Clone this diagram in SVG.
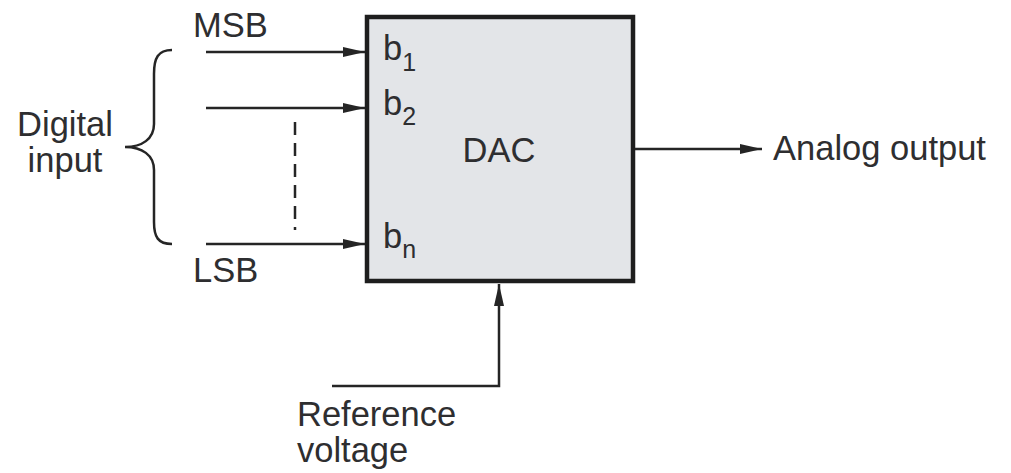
<svg xmlns="http://www.w3.org/2000/svg" width="1011" height="473" viewBox="0 0 1011 473">
<style>
text{font-family:"Liberation Sans",Arial,sans-serif;fill:#2e2e30;font-size:34.5px}
.sub{font-size:25px}
.ln{stroke:#252525;stroke-width:2.5;fill:none}
</style>
<defs>
<marker id="ah" markerWidth="22" markerHeight="10" refX="22" refY="5" orient="auto" markerUnits="userSpaceOnUse">
<path d="M0,0 L22,5 L0,10 Z" fill="#252525"/>
</marker>
</defs>
<rect width="1011" height="473" fill="#ffffff"/>
<g id="dac">
<rect x="367" y="17" width="266" height="264" fill="#e3e5e8" stroke="#1e1e1e" stroke-width="4.5"/>
<text x="499" y="162" text-anchor="middle">DAC</text>
<text x="383" y="60">b<tspan class="sub" dy="11">1</tspan></text>
<text x="383" y="115">b<tspan class="sub" dy="10">2</tspan></text>
<text x="383" y="248">b<tspan class="sub" dy="10">n</tspan></text>
</g>
<g id="labels">
<text x="193" y="37">MSB</text>
<text x="193" y="282">LSB</text>
<text x="65" y="136" text-anchor="middle">Digital</text>
<text x="65" y="172" text-anchor="middle">input</text>
<text x="773" y="160">Analog output</text>
<text x="297" y="426">Reference</text>
<text x="297" y="462">voltage</text>
</g>
<g id="connectors">
<line class="ln" x1="206" y1="52" x2="365" y2="52" marker-end="url(#ah)"/>
<line class="ln" x1="206" y1="108" x2="365" y2="108" marker-end="url(#ah)"/>
<line class="ln" x1="206" y1="244" x2="365" y2="244" marker-end="url(#ah)"/>
<line class="ln" x1="635" y1="149" x2="762" y2="149" marker-end="url(#ah)"/>
<polyline class="ln" points="332,386 499,386 499,284" marker-end="url(#ah)"/>
<line class="ln" x1="295" y1="122" x2="295" y2="230" stroke-dasharray="13 8"/>
<path class="ln" d="M172,50 C158,50 154,58 154,74 L154,124 C154,139 142,147 125,147 C142,147 154,155 154,170 L154,222 C154,237 158,244 172,244"/>
</g>
</svg>
